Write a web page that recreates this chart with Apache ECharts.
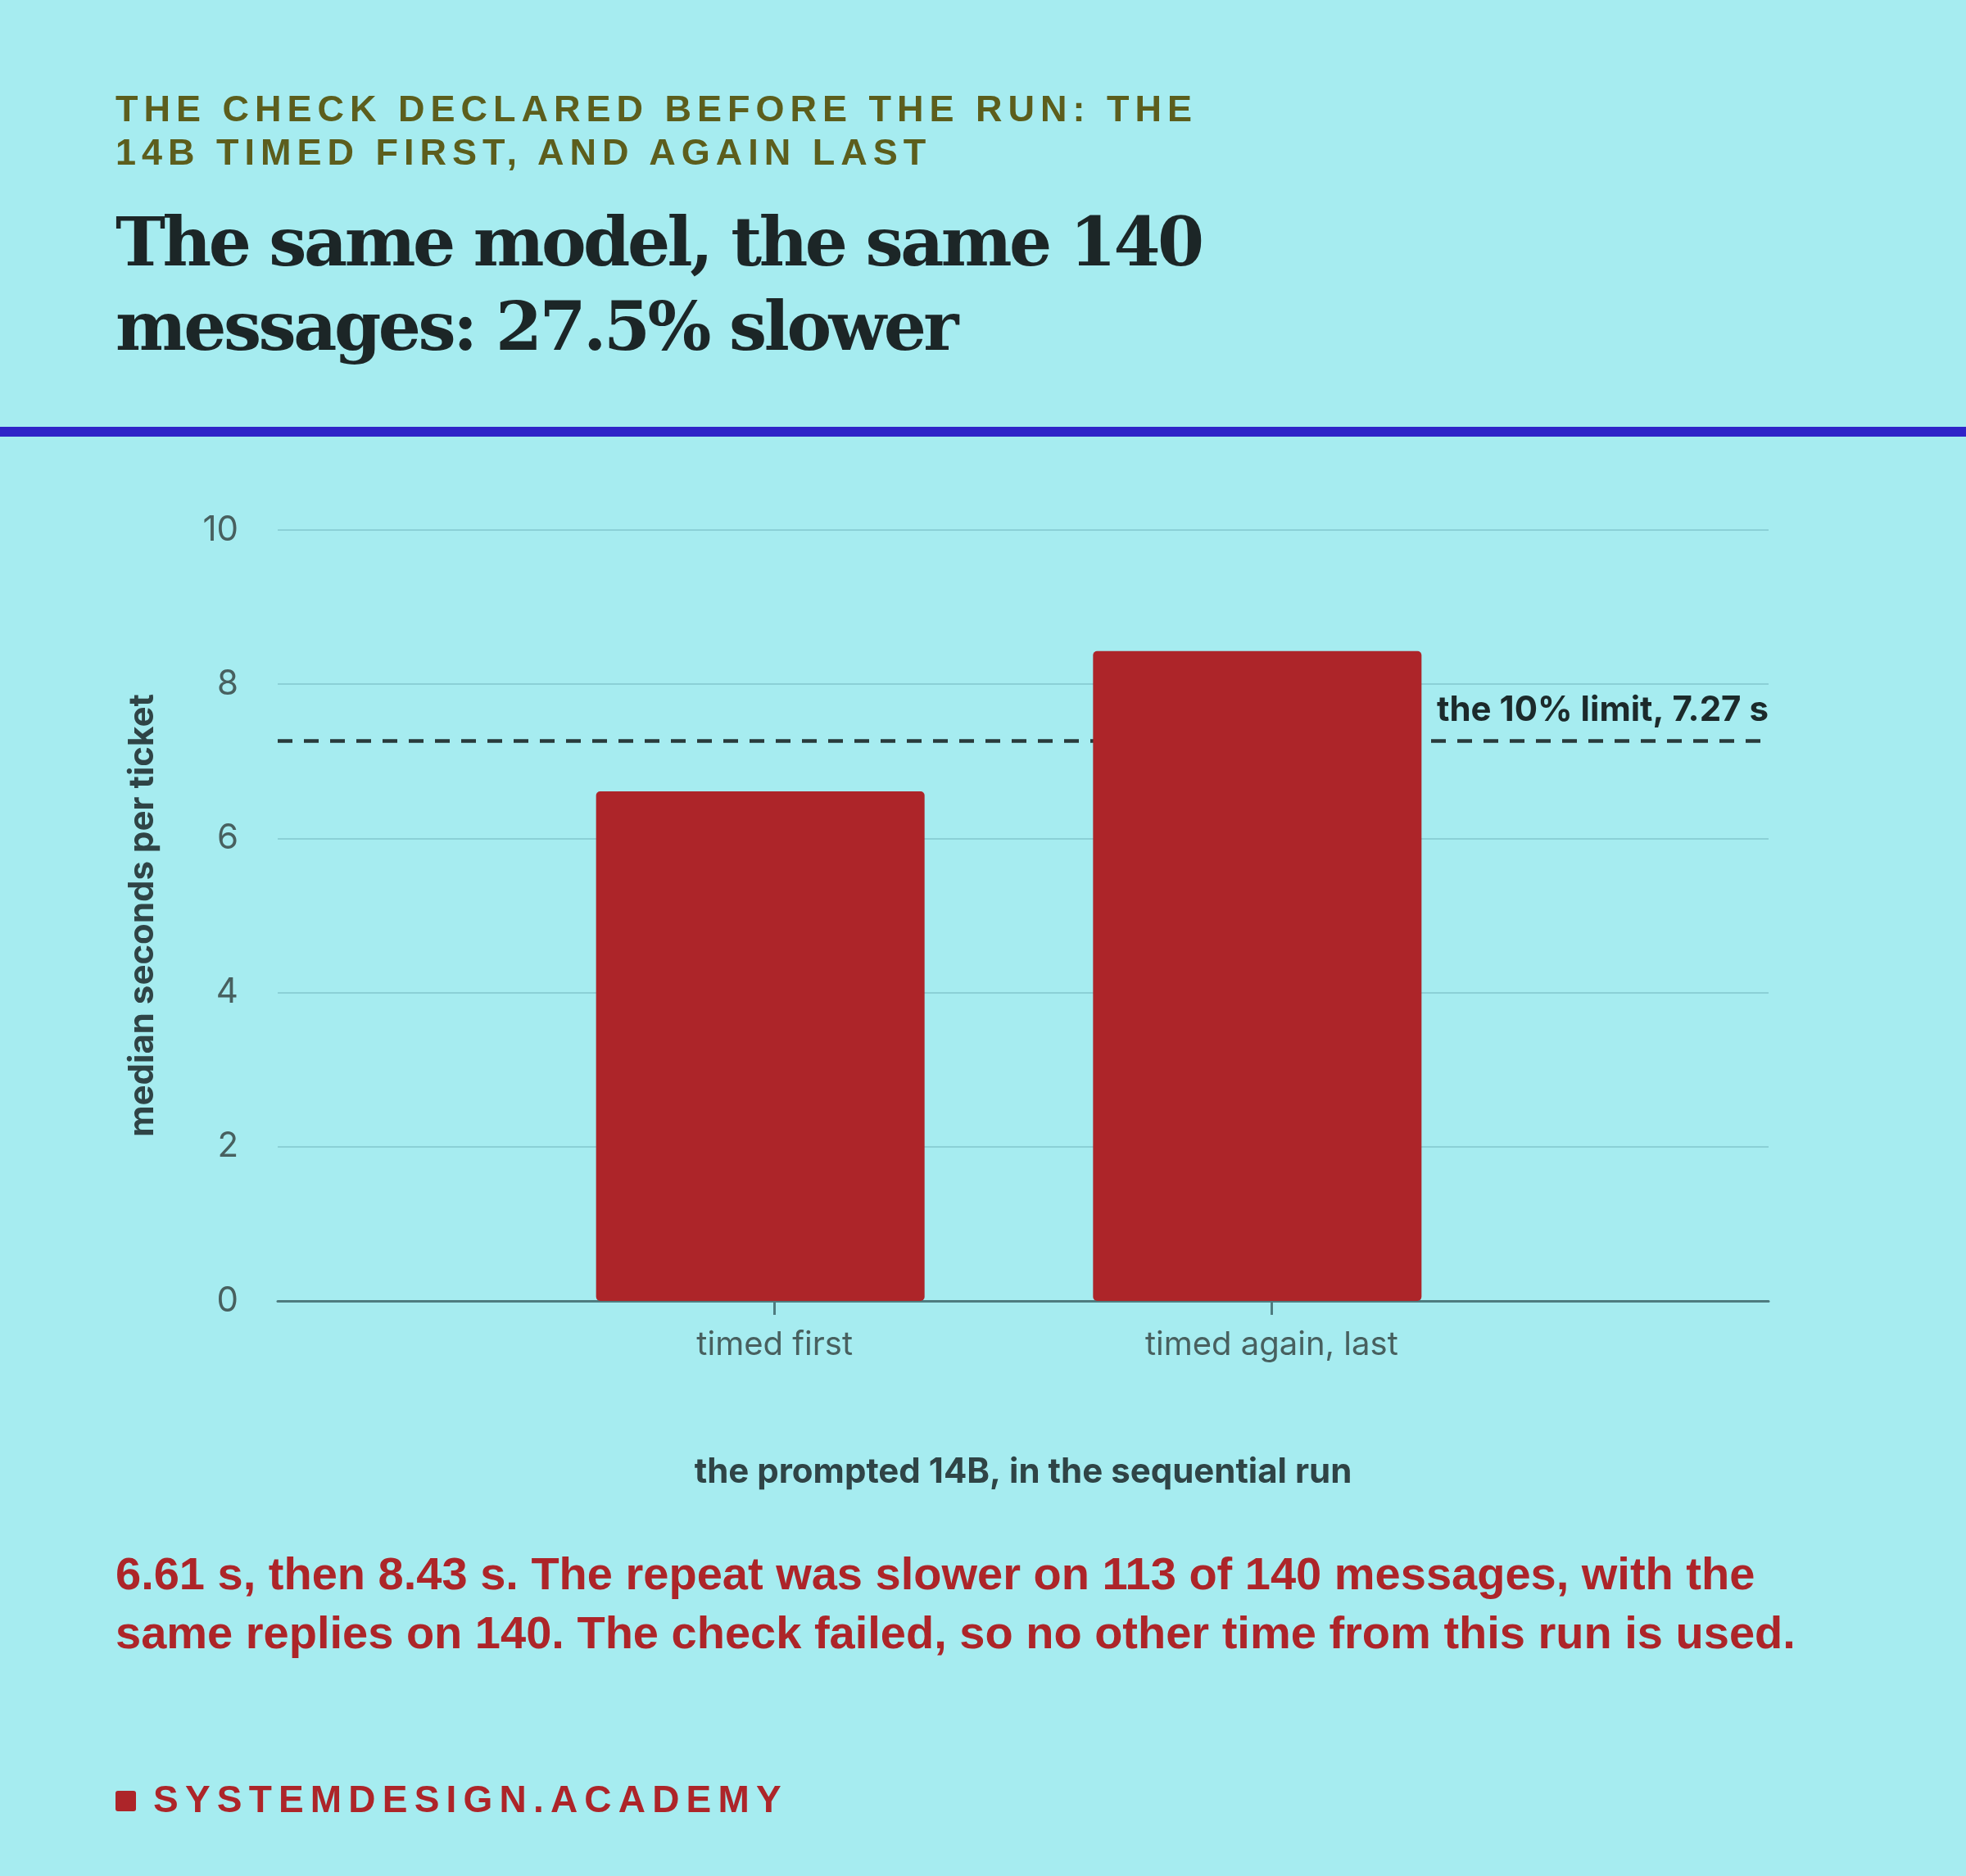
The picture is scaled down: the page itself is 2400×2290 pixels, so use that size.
<!DOCTYPE html>
<html>
<head>
<meta charset="utf-8">
<script src="https://cdn.jsdelivr.net/npm/echarts@6/dist/echarts.min.js"></script>
<style>
  html, body { margin:0; padding:0; }
  body { width:2400px; height:2290px; background:#a6ecf0; position:relative; overflow:hidden; }
  #chart { position:absolute; left:0; top:0; width:2400px; height:2290px; }
  .kicker { position:absolute; left:141px; top:106px; font-family:"Liberation Sans", Arial, sans-serif; font-weight:bold;
            font-size:45px; line-height:53px; letter-spacing:7px; color:#5c5e1d; }
  .title { position:absolute; left:141px; top:244px; font-family:"DejaVu Serif", serif; font-weight:bold;
           font-size:82px; line-height:103px; color:#1c2627; letter-spacing:-3.5px; }
  .rule { position:absolute; left:0; top:521px; width:2400px; height:12px; background:#2f24c8; }
  .note { position:absolute; left:141px; top:1885px; font-family:"Liberation Sans", Arial, sans-serif; font-weight:bold;
          font-size:56px; line-height:72px; color:#ad2529; }
  .brand { position:absolute; left:141px; top:2173px; font-family:"Liberation Sans", Arial, sans-serif; font-weight:bold;
           font-size:46px; line-height:46px; letter-spacing:8.2px; color:#ad2529; }
  .brand i { display:inline-block; width:25px; height:25px; border-radius:3px; background:#ad2529; margin-right:21px; vertical-align:1px; }
</style>
</head>
<body>
<div id="chart"></div>
<div class="kicker">THE CHECK DECLARED BEFORE THE RUN: THE<br>14B TIMED FIRST, AND AGAIN LAST</div>
<div class="title">The same model, the same 140<br>messages: 27.5% slower</div>
<div class="rule"></div>
<div class="note">6.61 s, then 8.43 s. The repeat was slower on 113 of 140 messages, with the<br>same replies on 140. The check failed, so no other time from this run is used.</div>
<div class="brand"><i></i>SYSTEMDESIGN.ACADEMY</div>
<script>
// 数据
var categories = ['timed first', 'timed again, last'];
var medianSeconds = [6.61, 8.43];
var limitValue = 7.27;
var limitLabel = 'the 10% limit, 7.27 s';
var yTicks = [0, 2, 4, 6, 8, 10];

// 两侧留空的类目位置, 让刻度落在 1/3 和 2/3 处
var slots = [''].concat(categories).concat(['']);
var barData = [null].concat(medianSeconds).concat([null]);

window.onload = function() {
    var chart = echarts.init(document.getElementById('chart'), null, {renderer: 'canvas'});
    var option = {
        backgroundColor: 'transparent',
        animation: false,
        textStyle: { fontFamily: 'Inter' },
        grid: { left: 339, right: 241, top: 647, bottom: 702 },
        xAxis: {
            type: 'category',
            data: slots,
            boundaryGap: false,
            name: 'the prompted 14B, in the sequential run',
            nameLocation: 'middle',
            nameGap: 188,
            nameTextStyle: { fontSize: 42, fontWeight: 'bold', color: '#2f4446' },
            axisLine: { lineStyle: { color: '#4e7b7f', width: 3 } },
            axisTick: {
                length: 17,
                lineStyle: { color: '#4e7b7f', width: 3 },
                interval: function(index, value) { return value !== ''; }
            },
            axisLabel: { fontSize: 40, color: '#48605f', margin: 34, interval: 0 },
            splitLine: { show: false }
        },
        yAxis: {
            type: 'value',
            min: yTicks[0],
            max: yTicks[yTicks.length - 1],
            interval: yTicks[1] - yTicks[0],
            name: 'median seconds per ticket',
            nameLocation: 'middle',
            nameGap: 144,
            nameRotate: 90,
            nameTextStyle: { fontSize: 42, fontWeight: 'bold', color: '#2f4446' },
            axisLine: { show: false },
            axisTick: { show: false },
            axisLabel: { fontSize: 42, color: '#48605f', margin: 48 },
            splitLine: { lineStyle: { color: '#8bd0d6', width: 2 } }
        },
        series: [{
            name: 'median seconds',
            type: 'bar',
            data: barData,
            barWidth: 401,
            barGap: 0,
            z: 3,
            itemStyle: { color: '#ad2529', borderRadius: 5 },
            markLine: {
                silent: true,
                symbol: 'none',
                z: 1,
                lineStyle: { color: '#283a3b', width: 4.5, type: [18, 14] },
                label: {
                    show: true,
                    position: 'insideEndTop',
                    distance: [0, 16],
                    formatter: limitLabel,
                    fontFamily: 'Inter',
                    fontSize: 42,
                    fontWeight: 'bold',
                    color: '#1c2a2b'
                },
                data: [{ yAxis: limitValue }]
            }
        }, {
            // 占位系列, 让柱子相对刻度略微左移
            name: 'spacer',
            type: 'bar',
            data: [],
            barWidth: 35,
            barGap: 0
        }]
    };
    chart.setOption(option);
};
</script>
</body>
</html>
